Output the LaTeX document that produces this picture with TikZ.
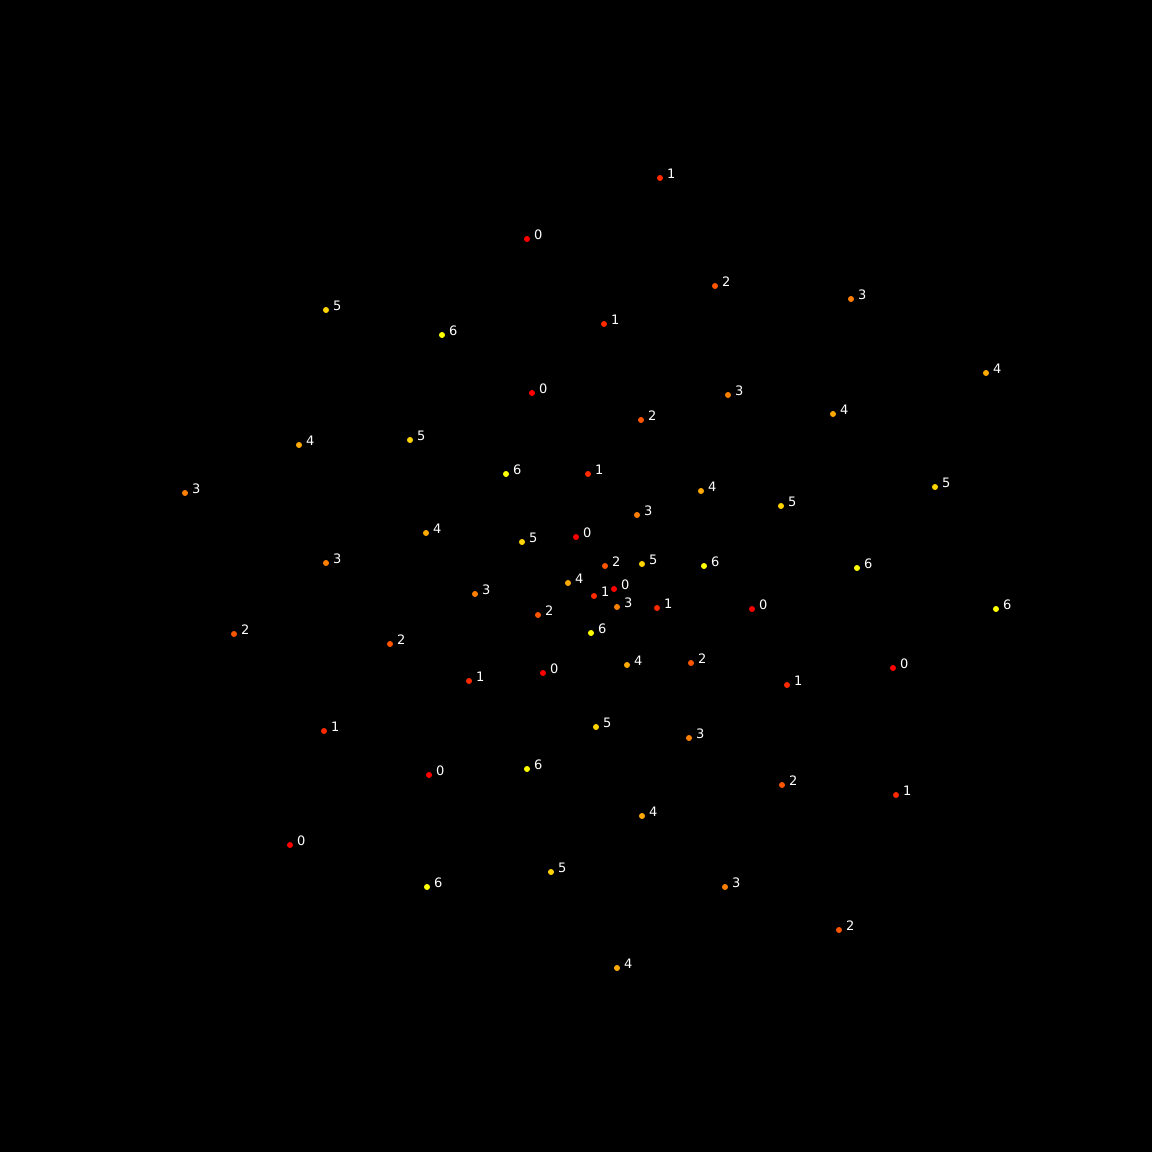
\documentclass[tikz,border=0pt]{standalone}
\usepackage{fontspec}
\setmainfont{DejaVu Sans}
\definecolor{c0}{RGB}{255,0,0}
\definecolor{c1}{RGB}{255,42,0}
\definecolor{c2}{RGB}{255,85,0}
\definecolor{c3}{RGB}{255,128,0}
\definecolor{c4}{RGB}{255,170,0}
\definecolor{c5}{RGB}{255,212,0}
\definecolor{c6}{RGB}{255,255,0}
\begin{document}
\begin{tikzpicture}[x=1pt,y=-1pt,
  pt/.style={circle,inner sep=0pt,minimum size=6pt,fill=c#1},
  lab/.style={text=white,inner sep=0pt,anchor=base west,font=\fontsize{13}{13}\selectfont}]
\fill[black] (0,0) rectangle (1152,1152);
\useasboundingbox (0,0) rectangle (1152,1152);
\foreach \x/\y/\k [count=\i] in {
660/178/1, 527/239/0, 715/286/2, 851/299/3, 326/310/5, 442/335/6, 604/324/1,
986/373/4, 532/393/0, 728/395/3, 833/414/4, 641/420/2, 299/445/4, 410/440/5,
506/474/6, 588/474/1, 185/493/3, 701/491/4, 935/487/5, 781/506/5, 637/515/3,
426/533/4, 522/542/5, 576/537/0, 326/563/3, 605/566/2, 642/564/5, 704/566/6,
857/568/6, 568/583/4, 614/589/0, 475/594/3, 594/596/1, 617/607/3, 657/608/1,
752/609/0, 996/609/6, 538/615/2, 234/634/2, 390/644/2, 591/633/6, 627/665/4,
691/663/2, 543/673/0, 893/668/0, 469/681/1, 787/685/1, 324/731/1, 596/727/5,
689/738/3, 429/775/0, 527/769/6, 782/785/2, 896/795/1, 642/816/4, 290/845/0,
551/872/5, 427/887/6, 725/887/3, 839/930/2, 617/968/4}
{
  \node[pt=\k] (p\i) at (\x,\y) {};
  \node[lab] (l\i) at ([xshift=7pt]p\i.center) {\k};
}
\end{tikzpicture}
\end{document}
